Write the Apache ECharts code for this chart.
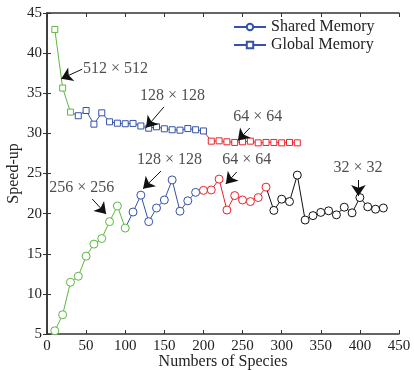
<!DOCTYPE html>
<html>
<head>
<meta charset="utf-8">
<script src="https://cdn.jsdelivr.net/npm/echarts@6/dist/echarts.min.js"></script>
<style>
  html, body { margin: 0; padding: 0; background: #fff; }
  #chart { width: 414px; height: 370px; }
</style>
</head>
<body>
<div id="chart"></div>
<script>
// Number of species on the x axis
const species = [10, 20, 30, 40, 50, 60, 70, 80, 90, 100,
  110, 120, 130, 140, 150, 160, 170, 180, 190, 200,
  210, 220, 230, 240, 250, 260, 270, 280, 290, 300,
  310, 320, 330, 340, 350, 360, 370, 380, 390, 400,
  410, 420, 430];

// Speed-up with shared memory (one value per species count)
const sharedSpeedup = [5.4, 7.4, 11.45, 12.2, 14.7, 16.2, 16.9, 19.0, 20.95, 18.2,
  20.2, 22.3, 19.0, 20.7, 21.7, 24.2, 20.3, 21.6, 22.65, 22.9,
  22.95, 24.3, 20.45, 22.25, 21.7, 21.5, 22.0, 23.3, 20.4, 21.8,
  21.5, 24.8, 19.2, 19.75, 20.15, 20.35, 19.85, 20.8, 20.1, 22.0,
  20.85, 20.55, 20.7];

// Speed-up with global memory (species 10 .. 320)
const globalSpeedup = [42.95, 35.65, 32.65, 32.2, 32.85, 31.15, 32.56, 31.44, 31.27, 31.2,
  31.24, 30.92, 30.65, 30.82, 30.57, 30.45, 30.4, 30.6, 30.45, 30.3,
  29.03, 29.07, 28.95, 28.87, 28.95, 29.03, 28.82, 28.87, 28.87, 28.82,
  28.87, 28.82];

// Index ranges of each coloured segment (inclusive start, inclusive end)
const sharedSegments = [
  { name: 'Shared 512', from: 0, to: 9, color: '#5cb840' },
  { name: 'Shared Memory', from: 9, to: 18, color: '#3452a8' },
  { name: 'Shared 64', from: 18, to: 27, color: '#e8232b' },
  { name: 'Shared 32', from: 27, to: 42, color: '#111111' }
];
const globalSegments = [
  { name: 'Global 512', from: 0, to: 2, color: '#5cb840' },
  { name: 'Global Memory', from: 2, to: 19, color: '#3452a8' },
  { name: 'Global 64', from: 19, to: 31, color: '#e8232b' }
];

// Block-size annotations: text position, arrow tail and arrow tip (data units)
const notes = [
  { text: '512 × 512', at: [87.5, 38.0], tail: [45, 38.0], tip: [18.2, 36.8] },
  { text: '128 × 128', at: [160.4, 34.66], tail: [149.5, 33.3], tip: [126.6, 30.7] },
  { text: '64 × 64', at: [269.4, 32.04], tail: [259.2, 30.67], tip: [244, 29.1] },
  { text: '128 × 128', at: [156.5, 26.68], tail: [145.7, 25.3], tip: [122.8, 23.1] },
  { text: '64 × 64', at: [255.4, 26.68], tail: [242.6, 25.2], tip: [228.6, 23.7] },
  { text: '256 × 256', at: [44.4, 23.19], tail: [57.8, 21.82], tip: [75.6, 19.95] },
  { text: '32 × 32', at: [397.5, 25.69], tail: [398.1, 24.19], tip: [398.1, 22.2] }
];

const FONT = 'Liberation Serif';
const TEXT = '#222';

function buildSeries(values, segments, symbol, size) {
  return segments.map((seg, k) => {
    const data = [];
    for (let i = seg.from; i <= seg.to; i++) {
      const item = { value: [species[i], values[i]] };
      // the joining point belongs to the previous segment's markers
      if (k > 0 && i === seg.from) item.symbol = 'none';
      data.push(item);
    }
    return {
      type: 'line',
      name: seg.name,
      data: data,
      symbol: symbol,
      symbolSize: size,
      showAllSymbol: true,
      lineStyle: { color: seg.color, width: 1 },
      itemStyle: { color: '#fff', borderColor: seg.color, borderWidth: 1 },
      emphasis: { disabled: true },
      animation: false,
      z: 3
    };
  });
}

const series = []
  .concat(buildSeries(globalSpeedup, globalSegments, 'rect', 6))
  .concat(buildSeries(sharedSpeedup, sharedSegments, 'circle', 8));

// annotation labels and arrows
series.push({
  type: 'scatter',
  name: 'notes',
  data: notes.map(n => ({ value: n.at, label: { formatter: n.text } })),
  symbolSize: 0,
  label: {
    show: true, position: 'inside',
    color: TEXT, fontFamily: FONT, fontSize: 16
  },
  silent: true,
  animation: false,
  z: 5,
  markLine: {
    silent: true,
    animation: false,
    symbol: ['none', 'arrow'],
    symbolSize: 11,
    label: { show: false },
    lineStyle: { color: '#111', width: 1, type: 'solid' },
    emphasis: { disabled: true },
    data: notes.map(n => [{ coord: n.tail }, { coord: n.tip }])
  }
});

const axisLine = { show: true, lineStyle: { color: '#333', width: 1.5 } };
const tick = { show: true, inside: true, length: 4, lineStyle: { color: '#333', width: 1 } };

const option = {
  backgroundColor: '#fff',
  animation: false,
  grid: { left: 47, right: 15, top: 13, bottom: 36, containLabel: false, outerBoundsMode: 'none' },
  legend: {
    data: ['Shared Memory', 'Global Memory'],
    orient: 'vertical',
    left: 228, top: 14,
    itemWidth: 32, itemHeight: 8, itemGap: 2,
    textStyle: { fontFamily: FONT, fontSize: 16, color: TEXT },
    selectedMode: false
  },
  xAxis: [{
    type: 'value', min: 0, max: 450, interval: 50,
    name: 'Numbers of Species', nameLocation: 'middle', nameGap: 28,
    nameMoveOverlap: false,
    nameTextStyle: { fontFamily: FONT, fontSize: 16, color: TEXT, verticalAlign: 'middle' },
    axisLine: axisLine, axisTick: tick,
    axisLabel: { fontFamily: FONT, fontSize: 15, color: TEXT, margin: 5 },
    splitLine: { show: false }
  }, {
    type: 'value', min: 0, max: 450, interval: 50, position: 'top',
    axisLine: axisLine, axisTick: tick, axisLabel: { show: false },
    splitLine: { show: false }
  }],
  yAxis: [{
    type: 'value', min: 5, max: 45, interval: 5,
    name: 'Speed-up', nameLocation: 'middle', nameGap: 33,
    nameMoveOverlap: false,
    nameTextStyle: { fontFamily: FONT, fontSize: 16, color: TEXT, verticalAlign: 'middle' },
    axisLine: axisLine, axisTick: tick,
    axisLabel: { fontFamily: FONT, fontSize: 15, color: TEXT, margin: 5 },
    splitLine: { show: false }
  }, {
    type: 'value', min: 5, max: 45, interval: 5, position: 'right',
    axisLine: axisLine, axisTick: tick, axisLabel: { show: false },
    splitLine: { show: false }
  }],
  series: series
};

const chart = echarts.init(document.getElementById('chart'), null, { renderer: 'canvas' });
chart.setOption(option);
</script>
</body>
</html>
